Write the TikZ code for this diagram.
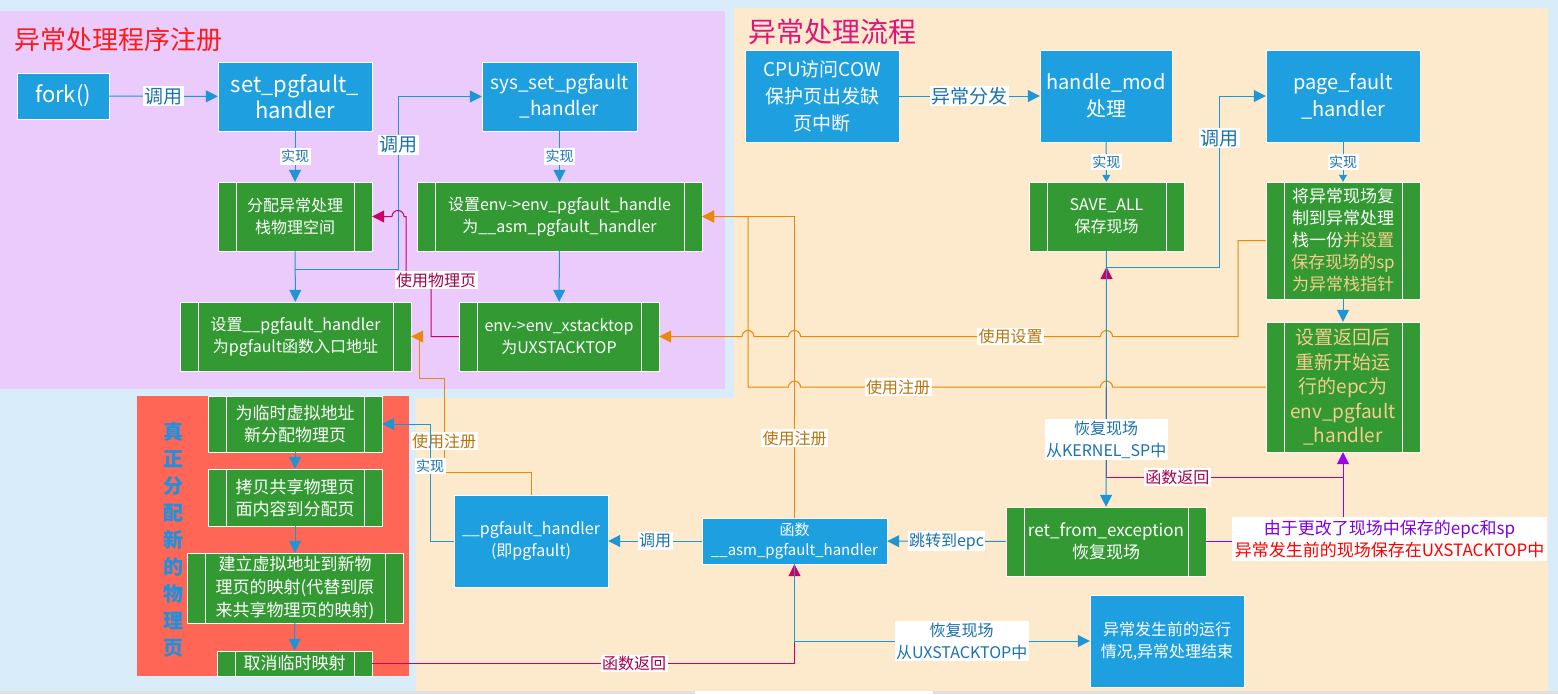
\documentclass[tikz,border=0pt]{standalone}
\usepackage{fontspec}
\setmainfont{Noto Sans CJK SC}
\usetikzlibrary{arrows.meta}
\definecolor{pfbg}{RGB}{216,237,249}
\definecolor{pfpurple}{RGB}{234,203,251}
\definecolor{pforange}{RGB}{253,233,203}
\definecolor{pfred}{RGB}{255,102,85}
\definecolor{pfbox}{RGB}{30,160,224}
\definecolor{pfgreen}{RGB}{51,153,51}
\definecolor{pfline}{RGB}{30,150,213}
\definecolor{pfamber}{RGB}{232,137,12}
\definecolor{pfmag}{RGB}{204,0,102}
\definecolor{pfviolet}{RGB}{153,0,238}
\definecolor{pftxtblue}{RGB}{27,114,173}
\definecolor{pftxtamber}{RGB}{184,116,10}
\definecolor{pftxtmag}{RGB}{163,0,79}
\definecolor{pfboxamber}{RGB}{245,205,140}
\definecolor{pftitlered}{RGB}{255,26,26}
\definecolor{pftitlemag}{RGB}{224,20,122}
\definecolor{pfvtext}{RGB}{30,144,224}
\definecolor{pfnote}{RGB}{128,0,224}
\newcommand{\fsz}[2]{\fontsize{#1}{#2}\selectfont}

\begin{document}
\begin{tikzpicture}[x=1pt, y=-1pt,
  bbox/.style={draw=white, fill=pfbox, text=white, inner sep=0pt, align=center},
  gbox/.style={draw=white, fill=pfgreen, text=white, inner sep=0pt, align=center,
    path picture={\draw[white]
      ([xshift=18pt]path picture bounding box.north west) -- ([xshift=18pt]path picture bounding box.south west)
      ([xshift=-18pt]path picture bounding box.north east) -- ([xshift=-18pt]path picture bounding box.south east);}},
  bl/.style={draw=pfline, line width=1pt, -{Triangle[length=12pt,width=12pt]}},
  blsm/.style={draw=pfline, line width=1pt, -{Triangle[length=7pt,width=8pt]}},
  og/.style={draw=pfamber, line width=1pt, -{Triangle[length=12pt,width=12pt]}},
  mg/.style={draw=pfmag, line width=1pt, -{Triangle[length=12pt,width=12pt]}},
  pp/.style={draw=pfviolet, line width=1pt, -{Triangle[length=12pt,width=12pt]}},
  lbl/.style={fill=white, inner sep=1.5pt, align=center},
  lblbig/.style={lbl, text=pftxtblue, font=\fsz{19}{22}},
  lblsm/.style={lbl, text=pftxtblue, font=\fsz{14}{16}},
  lblmd/.style={lbl, text=pftxtblue, font=\fsz{16}{22}},
  lblog/.style={lbl, text=pftxtamber, font=\fsz{16}{20}},
  lblmg/.style={lbl, text=pftxtmag, font=\fsz{16}{20}}]
  \useasboundingbox (0,0) rectangle (1558,694);
  % panels
  \fill[pfbg] (0,0) rectangle (1558,694);
  \fill[pforange] (416,8) rectangle (1548,691);
  \fill[pfbg] (0,0) rectangle (734,398);
  \fill[pfpurple] (0,11) rectangle (725,389);
  \fill[pfred] (137,396) rectangle (409,676);
  \fill[black!12] (0,691) rectangle (1558,694);
  \fill[white] (695,691) rectangle (933,694);
  \node[anchor=west, inner sep=0, text=pftitlered, font=\fsz{26}{26}] (regtitle) at (14,40) {异常处理程序注册};
  \node[anchor=west, inner sep=0, text=pftitlemag, font=\fsz{28}{28}] (flowtitle) at (748,32) {异常处理流程};
  \node[inner sep=0, align=center, text=pfvtext, font=\bfseries\fsz{20}{27}] (realtitle) at (173,540) {真\\正\\分\\配\\新\\的\\物\\理\\页};

  % blue boxes
  \node[bbox, minimum width=92, minimum height=46, font=\fsz{22}{26}] (fork) at (63,96) {fork()};
  \node[bbox, minimum width=154, minimum height=69, font=\fsz{22}{26}] (setpf) at (295,96.5) {set\_pgfault\_\\handler};
  \node[bbox, minimum width=155, minimum height=69, font=\fsz{19}{26}] (syspf) at (559.5,96.5) {sys\_set\_pgfault\\\_handler};
  \node[bbox, minimum width=154, minimum height=92, font=\fsz{19}{27}] (cpu) at (822,96) {CPU访问COW\\保护页出发缺\\页中断};
  \node[bbox, minimum width=132, minimum height=92, font=\fsz{20}{27}] (hmod) at (1106,96) {handle\_mod\\处理};
  \node[bbox, minimum width=154, minimum height=92, font=\fsz{20}{27}] (pfh) at (1343,96) {page\_fault\\\_handler};
  \node[bbox, minimum width=154, minimum height=92, font=\fsz{16}{22}] (pgfh) at (531,541) {\_\_pgfault\_handler\\(即pgfault)};
  \node[bbox, minimum width=185, minimum height=46, font=\fsz{15}{20}] (asmh) at (794.5,541) {函数\\\_\_asm\_pgfault\_handler};
  \node[bbox, minimum width=154, minimum height=92, font=\fsz{16}{22}] (endbox) at (1167,641) {异常发生前的运行\\情况,异常处理结束};

  % green boxes
  \node[gbox, minimum width=154, minimum height=69, font=\fsz{16}{22}] (alloc) at (295,216.5) {分配异常处理\\栈物理空间};
  \node[gbox, minimum width=285, minimum height=69, font=\fsz{16}{22}] (setenv) at (559.5,216.5) {设置env->env\_pgfault\_handle\\为\_\_asm\_pgfault\_handler};
  \node[gbox, minimum width=231, minimum height=69, font=\fsz{16}{22}] (setpgh) at (295.5,336.5) {设置\_\_pgfault\_handler\\为pgfault函数入口地址};
  \node[gbox, minimum width=200, minimum height=69, font=\fsz{16}{22}] (xstack) at (559,336.5) {env->env\_xstacktop\\为UXSTACKTOP};
  \node[gbox, minimum width=155, minimum height=69, font=\fsz{16}{22}] (saveall) at (1106.5,216.5) {SAVE\_ALL\\保存现场};
  \node[gbox, minimum width=154, minimum height=117, font=\fsz{17}{22}] (copyf) at (1343,240.5) {将异常现场复\\制到异常处理\\栈一份\textcolor{pfboxamber}{并设置}\\\textcolor{pfboxamber}{保存现场的sp}\\\textcolor{pfboxamber}{为异常栈指针}};
  \node[gbox, minimum width=154, minimum height=130, font=\fsz{19}{24.5}, text=pfboxamber] (setepc) at (1343,387) {设置返回后\\重新开始运\\行的epc为\\env\_pgfault\\\_handler};
  \node[gbox, minimum width=200, minimum height=69, font=\fsz{17}{22}] (retex) at (1106,541.5) {ret\_from\_exception\\恢复现场};
  \node[gbox, minimum width=174, minimum height=56, font=\fsz{17}{22}] (newpg) at (295,424) {为临时虚拟地址\\新分配物理页};
  \node[gbox, minimum width=174, minimum height=57, font=\fsz{17}{22}] (copypg) at (295,497.5) {拷贝共享物理页\\面内容到分配页};
  \node[gbox, minimum width=216, minimum height=70, font=\fsz{17}{23}] (mapnew) at (295,588) {建立虚拟地址到新物\\理页的映射(代替到原\\来共享物理页的映射)};
  \node[gbox, minimum width=155, minimum height=25, font=\fsz{17}{22}] (unmap) at (294.5,663.5) {取消临时映射};

  \coordinate (callsplit) at (295,269);
  \coordinate (callup) at (398,96.5);
  \coordinate (pfsplit) at (1106.5,267);
  \coordinate (pfup) at (1219,96);
  \coordinate (retjoin) at (1343,477);

  % orange: registration and settings
  \draw[og] (copyf.west) -| (1238,336.5) -- (1112.5,336.5) arc[start angle=0, end angle=-180, radius=6]
    -- node[lblog, pos=0.3]{使用设置} (800.5,336.5) arc[start angle=0, end angle=-180, radius=6]
    -- (754,336.5) arc[start angle=0, end angle=-180, radius=6] -- (xstack.east);
  \draw[og] (setepc.west) -- (1112.5,387) arc[start angle=0, end angle=-180, radius=6]
    -- node[lblog, pos=0.675]{使用注册} (800.5,387) arc[start angle=0, end angle=-180, radius=6]
    -- (748,387) |- (setenv.east);
  \draw[og] (asmh.north) -- node[lblog, pos=0.265]{使用注册} (794.5,216.5) -- (setenv.east);
  \draw[og] (pgfh.north) |- (444,472) -- node[lblog, pos=0.33]{使用注册} (444,378) -| (419,336.5) -- (setpgh.east);

  % blue: calls and implementations
  \draw[bl] (fork) -- node[lblbig]{调用} (setpf);
  \draw[bl] (setpf) -- node[lblsm]{实现} (alloc);
  \draw[bl] (alloc) -- (setpgh);
  \draw[bl] (callsplit) -| node[lblbig, pos=0.86]{调用} (callup) -- (syspf);
  \draw[bl] (syspf) -- node[lblsm]{实现} (setenv);
  \draw[bl] (setenv) -- (xstack);
  \draw[bl] (cpu) -- node[lblbig]{异常分发} (hmod);
  \draw[blsm] (hmod) -- node[lblsm]{实现} (saveall);
  \draw[blsm] (pfh) -- node[lblsm]{实现} (copyf);
  \draw[bl] (copyf) -- (setepc);
  \draw[bl] (pfsplit) -| node[lblbig, pos=0.877]{调用} (pfup) -- (pfh);
  \draw[bl] (pgfh.west) -| node[lblsm, pos=0.82]{实现} (430,424) -- (newpg.east);
  \draw[bl] (newpg) -- (copypg);
  \draw[bl] (copypg) -- (mapnew);
  \draw[bl] (mapnew) -- (unmap);
  \draw[bl] (asmh) -- node[lblmd]{调用} (pgfh);
  \draw[bl] (retex) -- node[lblmd]{跳转到epc} (asmh);

  % magenta: physical page use and returns
  \draw[mg] (xstack.west) -| (431,280) node[lblmg, xshift=5pt]{使用物理页} -| (406,216.5) -- (404,216.5)
    arc[start angle=0, end angle=-180, radius=6] -- (alloc.east);
  \draw[mg] (retjoin) -- node[lblmg, pos=0.7]{函数返回} (1106.5,477) -- (pfsplit);
  \draw[bl] (saveall) -- node[lblmd, pos=0.738]{恢复现场\\从KERNEL\_SP中} (retex);
  \draw[mg] (unmap) -- node[lblmg, pos=0.62]{函数返回} (794.5,663.5) -- (asmh);
  \draw[bl] (asmh.south) |- node[lblmd, pos=0.783]{恢复现场\\从UXSTACKTOP中} (endbox.west);

  % violet: changed epc and sp
  \draw[pp] (retex.east) -| (setepc.south);
  \node[fill=white, inner sep=2pt, align=center, minimum width=315, minimum height=44, font=\fsz{17}{22}] (note) at (1389.5,539)
    {\textcolor{pfnote}{由于更改了现场中保存的epc和sp}\\\textcolor{red}{异常发生前的现场保存在UXSTACKTOP中}};
\end{tikzpicture}
\end{document}
